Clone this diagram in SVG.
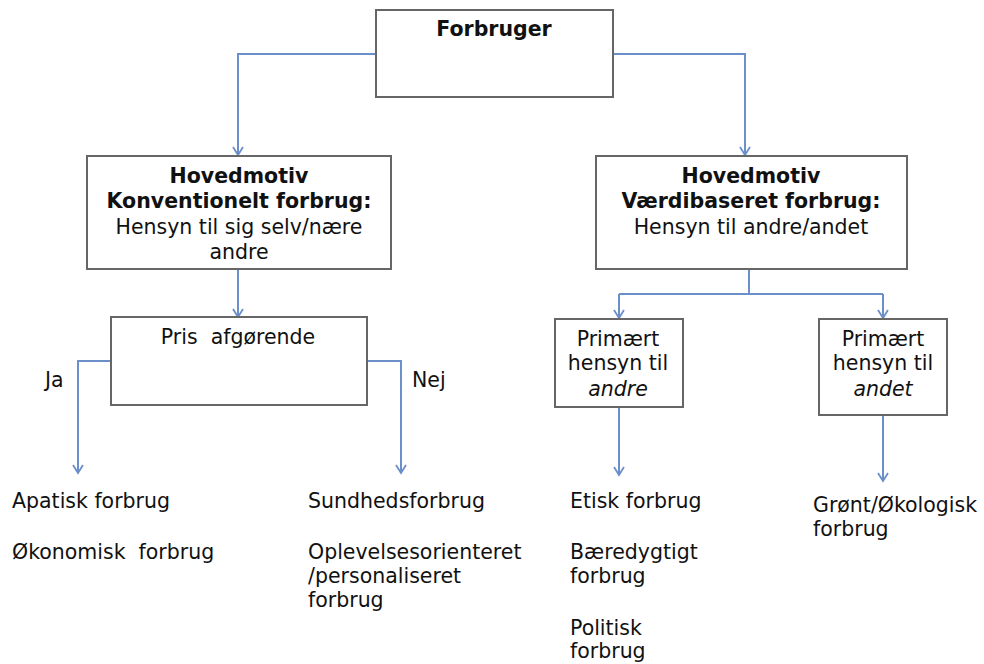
<svg xmlns="http://www.w3.org/2000/svg" width="984" height="664" viewBox="0 0 984 664">
<style>
.box{fill:#fff;stroke:#666;stroke-width:2}
.c{fill:none;stroke:#6a8fc9;stroke-width:2}
text{font-family:"DejaVu Sans",Verdana,sans-serif;font-size:20.5px;fill:#111}
.b{font-weight:bold}
.m{text-anchor:middle}
.i{font-style:italic}
</style>
<defs>
<marker id="a" markerWidth="12" markerHeight="12" refX="10" refY="6" orient="auto" markerUnits="userSpaceOnUse" viewBox="0 0 12 12">
<path d="M2,1 L10,6 L2,11" fill="none" stroke="#6a8fc9" stroke-width="1.8"/>
</marker>
</defs>
<g id="connectors">
<path class="c" d="M376,54 H238 V155" marker-end="url(#a)"/>
<path class="c" d="M613,54 H745 V155" marker-end="url(#a)"/>
<path class="c" d="M238,269 V317" marker-end="url(#a)"/>
<path class="c" d="M111,361 H78 V473" marker-end="url(#a)"/>
<path class="c" d="M367,361 H401 V473" marker-end="url(#a)"/>
<path class="c" d="M749,269 V294"/>
<path class="c" d="M619,294 H883"/>
<path class="c" d="M619,294 V318" marker-end="url(#a)"/>
<path class="c" d="M883,294 V318" marker-end="url(#a)"/>
<path class="c" d="M619,407 V475" marker-end="url(#a)"/>
<path class="c" d="M883,413 V481" marker-end="url(#a)"/>
</g>
<g id="forbruger">
<rect class="box" x="376" y="10" width="237" height="87"/>
<text class="b m" x="494" y="36">Forbruger</text>
</g>
<g id="konventionelt">
<rect class="box" x="87" y="156" width="304" height="113"/>
<text class="b m" x="239" y="183">Hovedmotiv</text>
<text class="b m" x="239" y="208">Konventionelt forbrug:</text>
<text class="m" x="239" y="234">Hensyn til sig selv/nære</text>
<text class="m" x="239" y="259">andre</text>
</g>
<g id="vaerdibaseret">
<rect class="box" x="596" y="156" width="311" height="113"/>
<text class="b m" x="751" y="183">Hovedmotiv</text>
<text class="b m" x="751" y="208">Værdibaseret forbrug:</text>
<text class="m" x="751" y="234">Hensyn til andre/andet</text>
</g>
<g id="pris">
<rect class="box" x="111" y="317" width="256" height="88"/>
<text class="m" x="238" y="344" xml:space="preserve">Pris  afgørende</text>
</g>
<g id="andre">
<rect class="box" x="555" y="319" width="128" height="88"/>
<text class="m" x="618" y="346">Primært</text>
<text class="m" x="618" y="370">hensyn til</text>
<text class="m i" x="618" y="396">andre</text>
</g>
<g id="andet">
<rect class="box" x="819" y="319" width="128" height="96"/>
<text class="m" x="883" y="346">Primært</text>
<text class="m" x="883" y="370">hensyn til</text>
<text class="m i" x="883" y="396">andet</text>
</g>
<g id="labels">
<text x="45" y="387">Ja</text>
<text x="412" y="387">Nej</text>
</g>
<g id="ja-result">
<text x="12" y="508">Apatisk forbrug</text>
<text x="12" y="559" xml:space="preserve">Økonomisk  forbrug</text>
</g>
<g id="nej-result">
<text x="308" y="508">Sundhedsforbrug</text>
<text x="308" y="559">Oplevelsesorienteret</text>
<text x="308" y="583">/personaliseret</text>
<text x="308" y="607">forbrug</text>
</g>
<g id="andre-result">
<text x="570" y="508">Etisk forbrug</text>
<text x="570" y="559">Bæredygtigt</text>
<text x="570" y="583">forbrug</text>
<text x="570" y="635">Politisk</text>
<text x="570" y="658">forbrug</text>
</g>
<g id="andet-result">
<text x="813" y="512">Grønt/Økologisk</text>
<text x="813" y="536">forbrug</text>
</g>
</svg>
